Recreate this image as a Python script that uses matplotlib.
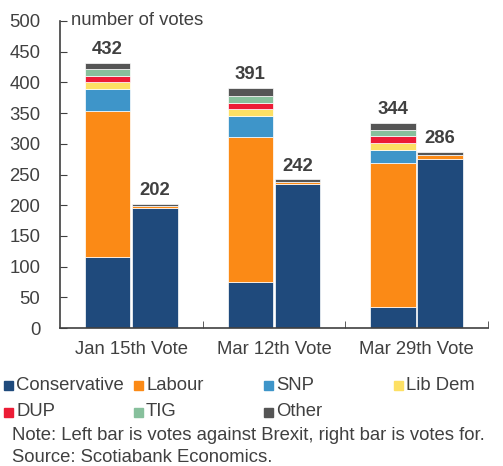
import matplotlib
matplotlib.use("Agg")
from matplotlib import pyplot as plt
from matplotlib.patches import Rectangle
import numpy as np

plt.rcParams['font.family'] = ['Liberation Sans', 'DejaVu Sans']

votes = ['Jan 15th Vote', 'Mar 12th Vote', 'Mar 29th Vote']
parties = ['Conservative', 'Labour', 'SNP', 'Lib Dem', 'DUP', 'TIG', 'Other']
colors = ['#1f4a7c', '#fb8a16', '#3e95c9', '#fde064', '#ec1c36', '#87c09c', '#555555']

# votes against (left bars)
against = {
    'Conservative': [116, 75, 34],
    'Labour': [238, 236, 234],
    'SNP': [35, 35, 22],
    'Lib Dem': [11, 11, 11],
    'DUP': [10, 10, 11],
    'TIG': [11, 11, 11],
    'Other': [11, 13, 11],
}
# votes for (right bars)
for_ = {
    'Conservative': [196, 235, 276],
    'Labour': [3, 3, 5],
    'SNP': [0, 0, 0],
    'Lib Dem': [0, 0, 0],
    'DUP': [0, 0, 0],
    'TIG': [0, 0, 0],
    'Other': [3, 4, 5],
}
total_against = [432, 391, 344]
total_for = [202, 242, 286]

txt = '#404040'
fs = 13.3
W, H = 503, 466
fig = plt.figure(figsize=(W / 100, H / 100), dpi=100)
ax = fig.add_axes([0.119, 0.296, 0.851, 0.659])

x = np.arange(len(votes))
w = 0.32
off = 0.165

bl = np.zeros(3)
br = np.zeros(3)
for p, c in zip(parties, colors):
    ax.bar(x - off, against[p], w, bottom=bl, color=c, edgecolor='white', linewidth=0.5)
    ax.bar(x + off, for_[p], w, bottom=br, color=c, edgecolor='white', linewidth=0.5)
    bl += np.array(against[p])
    br += np.array(for_[p])

for i in range(3):
    ax.text(x[i] - off, bl[i] + 8, str(total_against[i]), ha='center', va='bottom',
            fontsize=fs, fontweight='bold', color=txt)
    ax.text(x[i] + off, br[i] + 8, str(total_for[i]), ha='center', va='bottom',
            fontsize=fs, fontweight='bold', color=txt)

ax.set_xlim(-0.5, 2.5)
ax.set_ylim(0, 500)
ax.set_yticks(np.arange(0, 501, 50))
ax.set_xticks(x)
ax.set_xticklabels(votes)
ax.set_xticks([0.5, 1.5, 2.5], minor=True)
ax.tick_params(axis='x', which='major', length=0, pad=9, labelsize=fs, colors=txt)
ax.tick_params(axis='x', which='minor', direction='in', length=5, color='#404040')
ax.tick_params(axis='y', direction='in', length=5, labelsize=fs, colors=txt, pad=14)
for s in ['top', 'right']:
    ax.spines[s].set_visible(False)
for s in ['left', 'bottom']:
    ax.spines[s].set_color('#404040')
    ax.spines[s].set_linewidth(1.2)

ax.text(0.025, 1.0, 'number of votes', transform=ax.transAxes, fontsize=fs,
        color=txt, va='center', ha='left')

# legend drawn by hand: fixed-width columns, row-wise order
col_x = [4, 134, 264, 394]
row_y = [385, 412]
for k, (p, c) in enumerate(zip(parties, colors)):
    px = col_x[k % 4]
    py = row_y[k // 4]
    fig.patches.append(Rectangle((px / W, 1 - (py + 4.5) / H), 9 / W, 9 / H,
                                 transform=fig.transFigure, color=c))
    fig.text((px + 12) / W, 1 - py / H, p, fontsize=fs, color=txt, va='center')

fig.text(12 / W, 1 - 436 / H, 'Note: Left bar is votes against Brexit, right bar is votes for.',
         fontsize=fs, color=txt, va='center')
fig.text(12 / W, 1 - 457 / H, 'Source: Scotiabank Economics.', fontsize=fs,
         color=txt, va='center')

fig.savefig('out.png', dpi=100)
